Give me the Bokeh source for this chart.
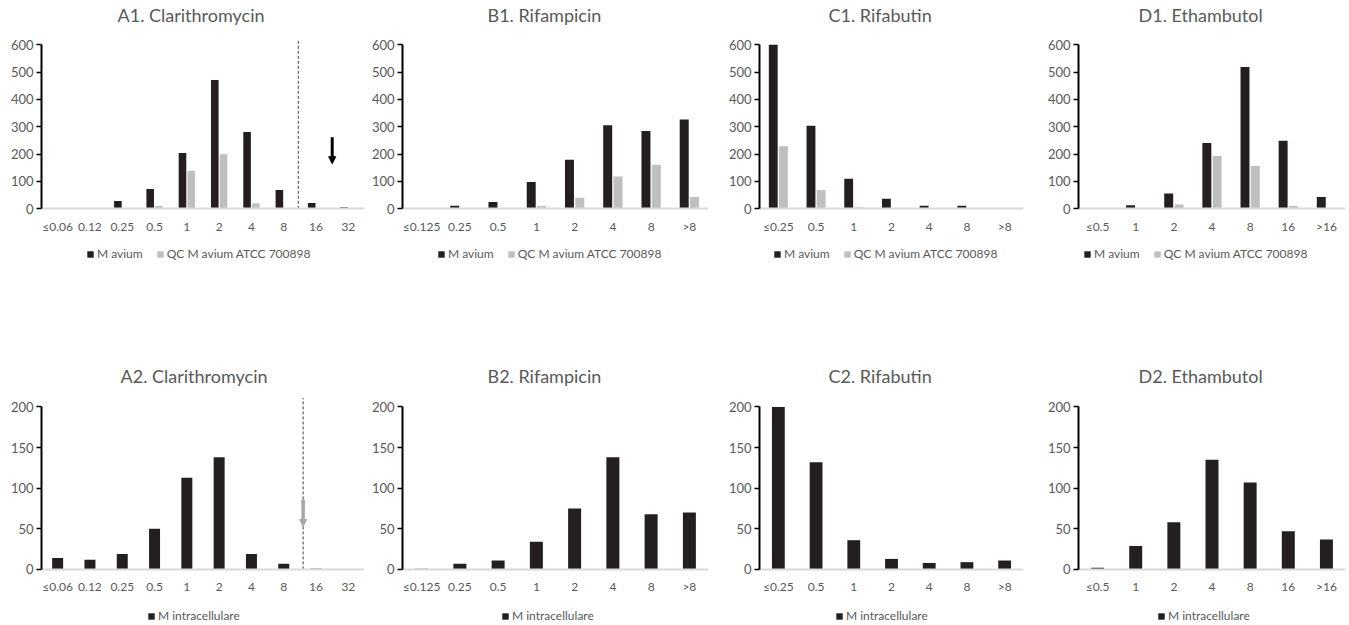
from bokeh.plotting import figure
from bokeh.models import (FactorRange, Range1d, Legend, LegendItem, Arrow, Label,
                          NormalHead, ColumnDataSource, FixedTicker)
from bokeh.transform import dodge
from bokeh.layouts import row, column
from bokeh.embed import file_html
from bokeh.resources import INLINE

# ---------------- data ----------------
cats_A = ["≤0.06", "0.12", "0.25", "0.5", "1", "2", "4", "8", "16", "32"]
cats_B = ["≤0.125", "0.25", "0.5", "1", "2", "4", "8", ">8"]
cats_C = ["≤0.25", "0.5", "1", "2", "4", "8", ">8"]
cats_D = ["≤0.5", "1", "2", "4", "8", "16", ">16"]

A1_avium = [0, 2, 29, 72, 204, 471, 281, 69, 21, 6]
A1_qc = [0, 0, 0, 10, 138, 200, 20, 0, 0, 0]
B1_avium = [0, 11, 25, 98, 179, 306, 285, 327]
B1_qc = [0, 0, 0, 10, 40, 118, 161, 43]
C1_avium = [600, 304, 110, 37, 11, 11, 1]
C1_qc = [229, 69, 6, 0, 0, 0, 0]
D1_avium = [0, 13, 56, 241, 519, 249, 43]
D1_qc = [0, 0, 16, 193, 157, 10, 0]

A2_intra = [14, 12, 19, 50, 113, 138, 19, 7, 1, 0]
B2_intra = [1, 7, 11, 34, 75, 138, 68, 70]
C2_intra = [200, 132, 36, 13, 8, 9, 11]
D2_intra = [2, 29, 58, 135, 107, 47, 37]

titles_top = ["A1. Clarithromycin", "B1. Rifampicin", "C1. Rifabutin", "D1. Ethambutol"]
titles_bot = ["A2. Clarithromycin", "B2. Rifampicin", "C2. Rifabutin", "D2. Ethambutol"]
series_top = ["M avium", "QC M avium ATCC 700898"]
series_bot = ["M intracellulare"]
ticks_top = [0, 100, 200, 300, 400, 500, 600]
ticks_bot = [0, 50, 100, 150, 200]

# ---------------- style / layout ----------------
FONT = "Lato"
TXT = "#595959"
BLACK = "#231f20"
GRAY = "#bfbfbf"

# column geometry: (frame width, left border, right border)
cols = [(323, 41, 0), (306, 38, 13), (264, 38, 17), (267, 38, 4)]
title_x_top = [76, 85, 69, 60]
title_x_bot = [79, 85, 69, 60]
leg_x_top = [45, 35, 14, 5]
leg_x_bot = [106, 99, 76, 79]

TOP_RANGE = (-233, 762)   # frame spans the whole top band (0..272 px)
BOT_RANGE = (-69, 304)    # frame spans the whole bottom band (322..625 px)


def make_panel(title, cats, values, labels, colors, ticks, yrange, geom,
               frame_h, bottom, title_x, title_y, leg_x, leg_y):
    fw, left, right = geom
    p = figure(x_range=FactorRange(factors=cats), y_range=Range1d(*yrange),
               frame_width=fw, frame_height=frame_h, title=None,
               output_backend="svg", toolbar_location=None,
               min_border_left=left, min_border_right=right,
               min_border_top=0, min_border_bottom=bottom)
    p.outline_line_color = None
    p.xgrid.visible = False
    p.ygrid.visible = False

    p.add_layout(Label(text=title, x=title_x, y=title_y, x_units="screen",
                       y_units="screen", text_align="left",
                       text_baseline="middle", text_font=FONT,
                       text_font_size="18px", text_color=TXT))

    src = {"cat": cats}
    for i, v in enumerate(values):
        src["s%d" % i] = v
    source = ColumnDataSource(src)
    n = len(values)
    renderers = []
    if n == 2:
        offs, w = [-0.135, 0.135], 0.235
    else:
        offs, w = [0.0], 0.34
    for i in range(n):
        r = p.vbar(x=dodge("cat", offs[i], range=p.x_range), top="s%d" % i,
                   width=w, source=source, fill_color=colors[i],
                   line_color=None)
        renderers.append(r)

    yax = p.yaxis[0]
    yax.ticker = FixedTicker(ticks=ticks)
    yax.bounds = (0, ticks[-1])
    yax.axis_line_color = "black"
    yax.axis_line_width = 2
    yax.major_tick_line_color = "black"
    yax.major_tick_line_width = 1.5
    yax.major_tick_out = 5
    yax.major_tick_in = 0
    yax.minor_tick_line_color = None
    yax.major_label_text_font = FONT
    yax.major_label_text_font_size = "13px"
    yax.major_label_text_color = TXT
    yax.major_label_standoff = 3

    xax = p.xaxis[0]
    xax.fixed_location = 0
    xax.axis_line_color = "#d9d9d9"
    xax.axis_line_width = 2
    xax.major_tick_line_color = None
    xax.minor_tick_line_color = None
    xax.major_label_text_font = FONT
    xax.major_label_text_font_size = "12px"
    xax.major_label_text_color = TXT
    xax.major_label_standoff = 4

    items = [LegendItem(label=labels[i], renderers=[renderers[i]]) for i in range(n)]
    leg = Legend(items=items, orientation="horizontal", location=(leg_x, leg_y),
                 glyph_width=8, glyph_height=8, label_standoff=3, spacing=13,
                 padding=0, margin=0, border_line_color=None,
                 background_fill_alpha=0, label_text_font=FONT,
                 label_text_font_size="12px", label_text_color=TXT,
                 label_height=12)
    p.add_layout(leg)
    return p


top_data = [(cats_A, [A1_avium, A1_qc]), (cats_B, [B1_avium, B1_qc]),
            (cats_C, [C1_avium, C1_qc]), (cats_D, [D1_avium, D1_qc])]
bot_data = [(cats_A, [A2_intra]), (cats_B, [B2_intra]),
            (cats_C, [C2_intra]), (cats_D, [D2_intra])]

top_figs = []
for k in range(4):
    cats, vals = top_data[k]
    top_figs.append(make_panel(titles_top[k], cats, vals, series_top,
                               [BLACK, GRAY], ticks_top, TOP_RANGE, cols[k], 272,
                               50, title_x_top[k], 258, leg_x_top[k], 11))
bot_figs = []
for k in range(4):
    cats, vals = bot_data[k]
    bot_figs.append(make_panel(titles_bot[k], cats, vals, series_bot,
                               [BLACK], ticks_bot, BOT_RANGE, cols[k], 303,
                               0, title_x_bot[k], 250, leg_x_bot[k], 2))

# breakpoint markers on clarithromycin panels
top_figs[0].segment(x0=[7.95], y0=[0], x1=[7.95], y1=[622],
                    line_color="#404040", line_width=1, line_dash="3 2")
bot_figs[0].segment(x0=[8.1], y0=[0], x1=[8.1], y1=[211],
                    line_color="#404040", line_width=1, line_dash="3 2")
top_figs[0].add_layout(Arrow(end=NormalHead(size=7, fill_color="black",
                                            line_color="black", line_width=1),
                             x_start=9.0, y_start=262, x_end=9.0, y_end=165,
                             line_color="black", line_width=3))
bot_figs[0].add_layout(Arrow(end=NormalHead(size=7, fill_color="#a6a6a6",
                                            line_color="#a6a6a6", line_width=1),
                             x_start=8.1, y_start=86, x_end=8.1, y_end=53,
                             line_color="#a6a6a6", line_width=3.5))

layout = column(row(*top_figs), row(*bot_figs))
open("out.html", "w").write(file_html(layout, INLINE))
